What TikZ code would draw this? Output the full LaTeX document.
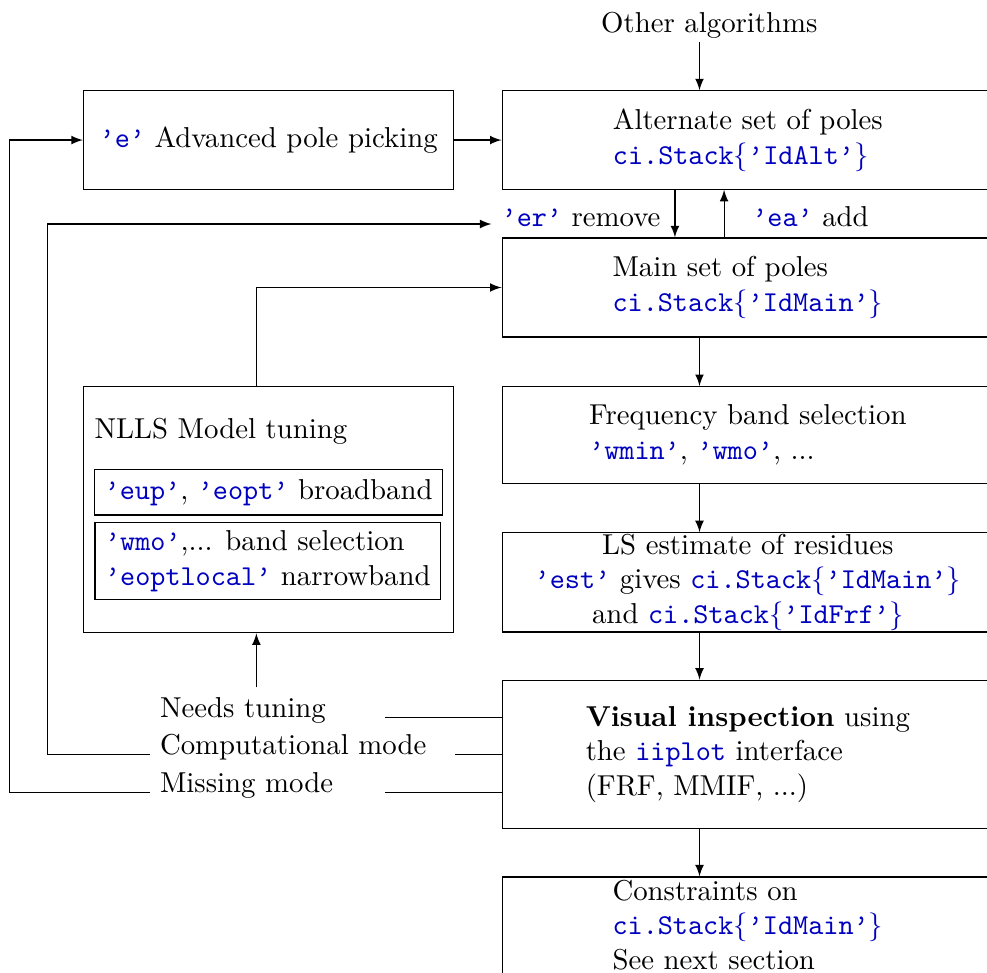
\documentclass[tikz,border=0pt]{standalone}
\usepackage{color}
\definecolor{codeblue}{rgb}{0,0,0.75}
\newcommand{\cmd}[1]{\textcolor{codeblue}{\texttt{#1}}}
\newcommand{\stk}[1]{\textcolor{codeblue}{\texttt{ci.Stack}$\{$\texttt{’#1’}$\}$}}

\begin{document}
\begin{tikzpicture}[auto, >=latex,
    box/.style={draw, minimum width=6cm, align=left},
    lbox/.style={draw, minimum width=4.52cm}]
        \useasboundingbox (0,0) rectangle (12.05,-11.87);
        \clip (0,0) rectangle (12.05,-11.87);
        \coordinate (sp) at (8.54,0);
        \coordinate (rm) at (8.24,0);
        \coordinate (ad) at (8.84,0);
        % right column
        \node (oa) [inner sep=1pt, anchor=base] at (8.66,-0.40) {Other algorithms};
        \node (alt) [box, minimum height=1.2cm] at (9.13,-1.71) {Alternate set of poles\\ \stk{IdAlt}};
        \node (er) [anchor=base west] at (6.00,-2.77) {\cmd{’er’} remove};
        \node (ea) [anchor=base west] at (9.06,-2.77) {\cmd{’ea’} add};
        \node (main) [box, minimum height=1.21cm] at (9.13,-3.51) {Main set of poles\\ \stk{IdMain}};
        \node (fb) [box, minimum height=1.18cm] at (9.13,-5.31) {Frequency band selection\\ \cmd{’wmin’}, \cmd{’wmo’}, ...};
        \node (ls) [box, align=center, inner ysep=0pt, minimum height=1.21cm] at (9.13,-7.11) {LS estimate of residues\\ \cmd{’est’} gives \stk{IdMain}\\ and \stk{IdFrf}};
        \node (vis) [box, minimum height=1.81cm] at (9.13,-9.21) {\textbf{Visual inspection} using\\ the \cmd{iiplot} interface\\ (FRF, MMIF, ...)};
        \node (con) [box, anchor=north, inner ysep=1pt, text depth=0.5cm] at (9.13,-10.70) {Constraints on\\ \stk{IdMain}\\ See next section};
        % left column
        \node (adv) [lbox, minimum height=1.2cm] at (3.28,-1.71) {\cmd{’e’} Advanced pole picking};
        \node (nlls) [lbox, minimum height=3.01cm] at (3.28,-6.22) {};
        \node (nlt) [anchor=base west] at (1.03,-5.35) {NLLS Model tuning};
        \node (bb) [draw, minimum width=4.25cm, minimum height=0.52cm] at (3.28,-6.01) {\cmd{’eup’}, \cmd{’eopt’} broadband};
        \node (nb) [draw, align=left, inner ysep=2pt, minimum width=4.22cm, minimum height=0.94cm] at (3.27,-6.85) {\cmd{’wmo’},... band selection\\ \cmd{’eoptlocal’} narrowband};
        \node (tune) [anchor=base west] at (1.83,-8.76) {Needs tuning};
        \node (comp) [anchor=base west] at (1.83,-9.21) {Computational mode};
        \node (miss) [anchor=base west] at (1.83,-9.68) {Missing mode};
        \coordinate (up) at ([xshift=-0.15cm]nlls.north);
        \coordinate (tun) at ([xshift=-0.15cm]nlls.south);
        \coordinate (ntr) at (4.70,-8.76);
        \coordinate (cmr) at (5.55,-9.21);
        \coordinate (mmr) at (4.70,-9.68);
        % arrows
        \draw[->] (oa.south -| sp) to (alt.north -| sp);
        \draw[->] (adv) to (alt);
        \draw[->] (alt.south -| rm) to (main.north -| rm);
        \draw[->] (main.north -| ad) to (alt.south -| ad);
        \draw[->] (main.south -| sp) to (fb.north -| sp);
        \draw[->] (fb.south -| sp) to (ls.north -| sp);
        \draw[->] (ls.south -| sp) to (vis.north -| sp);
        \draw[->] (vis.south -| sp) to (con.north -| sp);
        \draw[->] (up) |- (main.west);
        \draw[->] (tune.north -| tun) to (tun);
        \draw (vis.west |- ntr) to (ntr);
        \draw (vis.west |- cmr) to (cmr);
        \draw (vis.west |- mmr) to (mmr);
        \draw[->] (comp.base west) -- ++(-1.25,0) |- ([yshift=1pt]er.base west);
        \draw[->] (miss.base west) -- ++(-1.71,0) |- (adv.west);

      \end{tikzpicture}
\end{document}
